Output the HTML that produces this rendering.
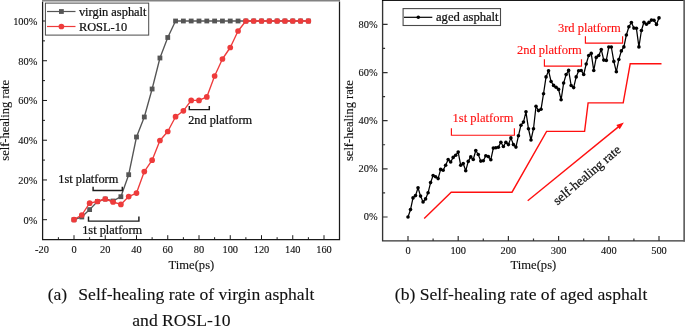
<!DOCTYPE html>
<html lang="en"><head><meta charset="utf-8"><title>Self-healing rate</title>
<style>html,body{margin:0;padding:0;background:#fff;}body{width:685px;height:326px;overflow:hidden;}svg{display:block;}text{font-family:"Liberation Serif", "DejaVu Serif", serif;fill:#111;stroke:#111;stroke-width:0.12px;}.b{stroke-width:0.24px;}</style>
</head><body>
<svg width="685" height="326" viewBox="0 0 685 326">
<rect x="0" y="0" width="685" height="326" fill="#ffffff"/>
<g fill="none" stroke="#1a1a1a" stroke-width="1.25">
<path d="M42.60 1.50 V239.60 H339.50 V1.50"/>
</g>
<rect x="42.05" y="0" width="298.00" height="1.5" fill="#828282"/>
<path d="M58.38 239.60v-2.40M74.00 239.60v-4.40M89.62 239.60v-2.40M105.25 239.60v-4.40M120.88 239.60v-2.40M136.50 239.60v-4.40M152.12 239.60v-2.40M167.75 239.60v-4.40M183.38 239.60v-2.40M199.00 239.60v-4.40M214.62 239.60v-2.40M230.25 239.60v-4.40M245.88 239.60v-2.40M261.50 239.60v-4.40M277.12 239.60v-2.40M292.75 239.60v-4.40M308.38 239.60v-2.40M324.00 239.60v-4.40M42.60 219.70h4.40M42.60 199.83h2.40M42.60 179.96h4.40M42.60 160.09h2.40M42.60 140.22h4.40M42.60 120.35h2.40M42.60 100.48h4.40M42.60 80.61h2.40M42.60 60.74h4.40M42.60 40.87h2.40M42.60 21.00h4.40" stroke="#1a1a1a" stroke-width="1" fill="none"/>
<g font-size="10.4px" style="stroke-width:0.16px">
<text x="41.95" y="252.9" text-anchor="middle">-20</text>
<text x="74.00" y="252.9" text-anchor="middle">0</text>
<text x="105.25" y="252.9" text-anchor="middle">20</text>
<text x="136.50" y="252.9" text-anchor="middle">40</text>
<text x="167.75" y="252.9" text-anchor="middle">60</text>
<text x="199.00" y="252.9" text-anchor="middle">80</text>
<text x="230.25" y="252.9" text-anchor="middle">100</text>
<text x="261.50" y="252.9" text-anchor="middle">120</text>
<text x="292.75" y="252.9" text-anchor="middle">140</text>
<text x="324.00" y="252.9" text-anchor="middle">160</text>
<text x="37.4" y="223.50" text-anchor="end">0%</text>
<text x="37.4" y="183.76" text-anchor="end">20%</text>
<text x="37.4" y="144.02" text-anchor="end">40%</text>
<text x="37.4" y="104.28" text-anchor="end">60%</text>
<text x="37.4" y="64.54" text-anchor="end">80%</text>
<text x="37.4" y="24.80" text-anchor="end">100%</text>
</g>
<text x="191.4" y="268.7" font-size="12.6px" text-anchor="middle">Time(ps)</text>
<text transform="translate(9,120.3) rotate(-90)" font-size="12.5px" text-anchor="middle">self-healing rate</text>
<polyline points="74.00,219.70 81.81,217.00 89.62,209.60 97.44,201.50 105.25,199.00 113.06,201.00 120.88,196.70 128.69,174.70 136.50,137.00 144.31,117.00 152.12,89.00 159.94,58.00 167.75,37.50 175.56,21.00 183.38,21.00 191.19,21.00 199.00,21.00 206.81,21.00 214.62,21.00 222.44,21.00 230.25,21.00 238.06,21.00 245.88,21.00 253.69,21.00 261.50,21.00 269.31,21.00 277.12,21.00 284.94,21.00 292.75,21.00 300.56,21.00 308.38,21.00" fill="none" stroke="#555555" stroke-width="1.35" stroke-linejoin="round"/>
<g fill="#555555">
<rect x="71.60" y="217.30" width="4.8" height="4.8"/>
<rect x="79.41" y="214.60" width="4.8" height="4.8"/>
<rect x="87.22" y="207.20" width="4.8" height="4.8"/>
<rect x="95.04" y="199.10" width="4.8" height="4.8"/>
<rect x="102.85" y="196.60" width="4.8" height="4.8"/>
<rect x="110.66" y="198.60" width="4.8" height="4.8"/>
<rect x="118.47" y="194.30" width="4.8" height="4.8"/>
<rect x="126.29" y="172.30" width="4.8" height="4.8"/>
<rect x="134.10" y="134.60" width="4.8" height="4.8"/>
<rect x="141.91" y="114.60" width="4.8" height="4.8"/>
<rect x="149.72" y="86.60" width="4.8" height="4.8"/>
<rect x="157.54" y="55.60" width="4.8" height="4.8"/>
<rect x="165.35" y="35.10" width="4.8" height="4.8"/>
<rect x="173.16" y="18.60" width="4.8" height="4.8"/>
<rect x="180.97" y="18.60" width="4.8" height="4.8"/>
<rect x="188.79" y="18.60" width="4.8" height="4.8"/>
<rect x="196.60" y="18.60" width="4.8" height="4.8"/>
<rect x="204.41" y="18.60" width="4.8" height="4.8"/>
<rect x="212.22" y="18.60" width="4.8" height="4.8"/>
<rect x="220.04" y="18.60" width="4.8" height="4.8"/>
<rect x="227.85" y="18.60" width="4.8" height="4.8"/>
<rect x="235.66" y="18.60" width="4.8" height="4.8"/>
<rect x="243.47" y="18.60" width="4.8" height="4.8"/>
<rect x="251.29" y="18.60" width="4.8" height="4.8"/>
<rect x="259.10" y="18.60" width="4.8" height="4.8"/>
<rect x="266.91" y="18.60" width="4.8" height="4.8"/>
<rect x="274.73" y="18.60" width="4.8" height="4.8"/>
<rect x="282.54" y="18.60" width="4.8" height="4.8"/>
<rect x="290.35" y="18.60" width="4.8" height="4.8"/>
<rect x="298.16" y="18.60" width="4.8" height="4.8"/>
<rect x="305.98" y="18.60" width="4.8" height="4.8"/>
</g>
<polyline points="74.00,219.70 81.81,215.00 89.62,203.20 97.44,201.50 105.25,199.00 113.06,202.00 120.88,204.40 128.69,196.60 136.50,193.10 144.31,171.60 152.12,160.20 159.94,140.50 167.75,131.50 175.56,116.70 183.38,110.80 191.19,100.40 199.00,100.40 206.81,96.90 214.62,76.00 222.44,59.00 230.25,47.50 238.06,31.00 245.88,21.00 253.69,21.00 261.50,21.00 269.31,21.00 277.12,21.00 284.94,21.00 292.75,21.00 300.56,21.00 308.38,21.00" fill="none" stroke="#ee3b3b" stroke-width="1.35" stroke-linejoin="round"/>
<g fill="#ee3b3b">
<circle cx="74.00" cy="219.70" r="2.85"/>
<circle cx="81.81" cy="215.00" r="2.85"/>
<circle cx="89.62" cy="203.20" r="2.85"/>
<circle cx="97.44" cy="201.50" r="2.85"/>
<circle cx="105.25" cy="199.00" r="2.85"/>
<circle cx="113.06" cy="202.00" r="2.85"/>
<circle cx="120.88" cy="204.40" r="2.85"/>
<circle cx="128.69" cy="196.60" r="2.85"/>
<circle cx="136.50" cy="193.10" r="2.85"/>
<circle cx="144.31" cy="171.60" r="2.85"/>
<circle cx="152.12" cy="160.20" r="2.85"/>
<circle cx="159.94" cy="140.50" r="2.85"/>
<circle cx="167.75" cy="131.50" r="2.85"/>
<circle cx="175.56" cy="116.70" r="2.85"/>
<circle cx="183.38" cy="110.80" r="2.85"/>
<circle cx="191.19" cy="100.40" r="2.85"/>
<circle cx="199.00" cy="100.40" r="2.85"/>
<circle cx="206.81" cy="96.90" r="2.85"/>
<circle cx="214.62" cy="76.00" r="2.85"/>
<circle cx="222.44" cy="59.00" r="2.85"/>
<circle cx="230.25" cy="47.50" r="2.85"/>
<circle cx="238.06" cy="31.00" r="2.85"/>
<circle cx="245.88" cy="21.00" r="2.85"/>
<circle cx="253.69" cy="21.00" r="2.85"/>
<circle cx="261.50" cy="21.00" r="2.85"/>
<circle cx="269.31" cy="21.00" r="2.85"/>
<circle cx="277.12" cy="21.00" r="2.85"/>
<circle cx="284.94" cy="21.00" r="2.85"/>
<circle cx="292.75" cy="21.00" r="2.85"/>
<circle cx="300.56" cy="21.00" r="2.85"/>
<circle cx="308.38" cy="21.00" r="2.85"/>
</g>
<rect x="45.4" y="3.1" width="103.3" height="32" fill="#fff" stroke="#4a4a4a" stroke-width="1"/>
<path d="M47 11.5H75.5" stroke="#555555" stroke-width="1.2"/>
<rect x="59" y="9.1" width="4.8" height="4.8" fill="#555555"/>
<path d="M47 26.5H75.5" stroke="#ee3b3b" stroke-width="1.2"/>
<circle cx="61.4" cy="26.5" r="2.85" fill="#ee3b3b"/>
<text class="b" x="78.9" y="15.8" font-size="12.4px">virgin asphalt</text>
<text class="b" x="78.9" y="30.9" font-size="12.4px">ROSL-10</text>
<g fill="none" stroke="#1c1c1c" stroke-width="1.45">
<path d="M93.1 186.8V190.5H122.3V186.8"/>
<path d="M88.5 216.6V221.1H138.9V216.6"/>
<path d="M189.3 106V109.6H209.3V106"/>
</g>
<text class="b" x="58.3" y="182.6" font-size="12.35px">1st platform</text>
<text class="b" x="82.2" y="234.4" font-size="12.35px">1st platform</text>
<text class="b" x="188.2" y="123.6" font-size="12.3px">2nd platform</text>
<text x="47.7" y="299.7" font-size="17.6px">(a)</text>
<text x="78.3" y="299.7" font-size="17.6px">Self-healing rate of virgin asphalt</text>
<text x="181.4" y="325.6" font-size="17.6px" text-anchor="middle">and ROSL-10</text>
<text x="394.8" y="299.7" font-size="17.6px">(b) Self-healing rate of aged asphalt</text>
<path d="M382.60 -1.00 V240.90 H685.00" fill="none" stroke="#333" stroke-width="1.35"/>
<rect x="382.05" y="0" width="310" height="0.9" fill="#000"/>
<rect x="683.3" y="0" width="2" height="241.50" fill="#626262"/>
<path d="M408.00 240.90v-4.90M433.10 240.90v-2.50M458.20 240.90v-4.90M483.30 240.90v-2.50M508.40 240.90v-4.90M533.50 240.90v-2.50M558.60 240.90v-4.90M583.70 240.90v-2.50M608.80 240.90v-4.90M633.90 240.90v-2.50M659.00 240.90v-4.90M382.60 217.00h5.00M382.60 192.93h2.50M382.60 168.85h5.00M382.60 144.77h2.50M382.60 120.70h5.00M382.60 96.62h2.50M382.60 72.55h5.00M382.60 48.47h2.50M382.60 24.40h5.00" stroke="#333" stroke-width="1.2" fill="none"/>
<g font-size="10.4px" style="stroke-width:0.16px">
<text x="408.00" y="254" text-anchor="middle">0</text>
<text x="458.20" y="254" text-anchor="middle">100</text>
<text x="508.40" y="254" text-anchor="middle">200</text>
<text x="558.60" y="254" text-anchor="middle">300</text>
<text x="608.80" y="254" text-anchor="middle">400</text>
<text x="659.00" y="254" text-anchor="middle">500</text>
<text x="377.6" y="220.40" text-anchor="end">0%</text>
<text x="377.6" y="172.25" text-anchor="end">20%</text>
<text x="377.6" y="124.10" text-anchor="end">40%</text>
<text x="377.6" y="75.95" text-anchor="end">60%</text>
<text x="377.6" y="27.80" text-anchor="end">80%</text>
</g>
<text x="533.4" y="268.7" font-size="12.6px" text-anchor="middle">Time(ps)</text>
<text transform="translate(353.1,120.6) rotate(-90)" font-size="12.5px" text-anchor="middle">self-healing rate</text>
<polyline points="408.00,217.00 410.51,209.60 413.02,197.90 415.53,195.60 418.04,187.80 420.55,196.10 423.06,202.00 425.57,198.90 428.08,192.80 430.59,182.60 433.10,175.50 435.61,176.70 438.12,178.60 440.63,169.40 443.14,170.20 445.65,165.30 448.16,159.60 450.67,162.00 453.18,157.40 455.69,155.20 458.20,152.10 460.71,165.30 463.22,163.50 465.73,170.80 468.24,161.40 470.75,156.90 473.26,159.50 475.77,150.50 478.28,154.50 480.79,161.10 483.30,160.70 485.81,155.70 488.32,156.60 490.83,159.70 493.34,148.10 495.85,147.70 498.36,147.30 500.87,142.20 503.38,146.50 505.89,142.20 508.40,144.60 510.91,137.90 513.42,144.60 515.93,147.10 518.44,135.80 520.95,125.20 523.46,122.10 525.97,111.80 528.48,128.80 530.99,140.00 533.50,128.70 536.01,106.30 538.52,110.60 541.03,109.30 543.54,93.70 546.05,76.90 548.56,70.70 551.07,81.50 553.58,85.40 556.09,87.20 558.60,89.40 561.11,99.80 563.62,83.10 566.13,74.50 568.64,70.40 571.15,85.50 573.66,87.60 576.17,76.90 578.68,70.70 581.19,70.50 583.70,74.50 586.21,64.00 588.72,55.50 591.23,53.40 593.74,70.50 596.25,57.40 598.76,55.50 601.27,49.50 603.78,60.10 606.29,60.40 608.80,47.00 611.31,47.00 613.82,61.40 616.33,71.80 618.84,59.50 621.35,50.90 623.86,46.90 626.37,35.00 628.88,26.70 631.39,22.50 633.90,28.10 636.41,28.30 638.92,46.90 641.43,30.50 643.94,22.20 646.45,24.30 648.96,22.40 651.47,20.10 653.98,20.30 656.49,24.40 659.00,17.90" fill="none" stroke="#000" stroke-width="1.25" stroke-linejoin="round"/>
<g fill="#000">
<circle cx="408.00" cy="217.00" r="1.8"/>
<circle cx="410.51" cy="209.60" r="1.8"/>
<circle cx="413.02" cy="197.90" r="1.8"/>
<circle cx="415.53" cy="195.60" r="1.8"/>
<circle cx="418.04" cy="187.80" r="1.8"/>
<circle cx="420.55" cy="196.10" r="1.8"/>
<circle cx="423.06" cy="202.00" r="1.8"/>
<circle cx="425.57" cy="198.90" r="1.8"/>
<circle cx="428.08" cy="192.80" r="1.8"/>
<circle cx="430.59" cy="182.60" r="1.8"/>
<circle cx="433.10" cy="175.50" r="1.8"/>
<circle cx="435.61" cy="176.70" r="1.8"/>
<circle cx="438.12" cy="178.60" r="1.8"/>
<circle cx="440.63" cy="169.40" r="1.8"/>
<circle cx="443.14" cy="170.20" r="1.8"/>
<circle cx="445.65" cy="165.30" r="1.8"/>
<circle cx="448.16" cy="159.60" r="1.8"/>
<circle cx="450.67" cy="162.00" r="1.8"/>
<circle cx="453.18" cy="157.40" r="1.8"/>
<circle cx="455.69" cy="155.20" r="1.8"/>
<circle cx="458.20" cy="152.10" r="1.8"/>
<circle cx="460.71" cy="165.30" r="1.8"/>
<circle cx="463.22" cy="163.50" r="1.8"/>
<circle cx="465.73" cy="170.80" r="1.8"/>
<circle cx="468.24" cy="161.40" r="1.8"/>
<circle cx="470.75" cy="156.90" r="1.8"/>
<circle cx="473.26" cy="159.50" r="1.8"/>
<circle cx="475.77" cy="150.50" r="1.8"/>
<circle cx="478.28" cy="154.50" r="1.8"/>
<circle cx="480.79" cy="161.10" r="1.8"/>
<circle cx="483.30" cy="160.70" r="1.8"/>
<circle cx="485.81" cy="155.70" r="1.8"/>
<circle cx="488.32" cy="156.60" r="1.8"/>
<circle cx="490.83" cy="159.70" r="1.8"/>
<circle cx="493.34" cy="148.10" r="1.8"/>
<circle cx="495.85" cy="147.70" r="1.8"/>
<circle cx="498.36" cy="147.30" r="1.8"/>
<circle cx="500.87" cy="142.20" r="1.8"/>
<circle cx="503.38" cy="146.50" r="1.8"/>
<circle cx="505.89" cy="142.20" r="1.8"/>
<circle cx="508.40" cy="144.60" r="1.8"/>
<circle cx="510.91" cy="137.90" r="1.8"/>
<circle cx="513.42" cy="144.60" r="1.8"/>
<circle cx="515.93" cy="147.10" r="1.8"/>
<circle cx="518.44" cy="135.80" r="1.8"/>
<circle cx="520.95" cy="125.20" r="1.8"/>
<circle cx="523.46" cy="122.10" r="1.8"/>
<circle cx="525.97" cy="111.80" r="1.8"/>
<circle cx="528.48" cy="128.80" r="1.8"/>
<circle cx="530.99" cy="140.00" r="1.8"/>
<circle cx="533.50" cy="128.70" r="1.8"/>
<circle cx="536.01" cy="106.30" r="1.8"/>
<circle cx="538.52" cy="110.60" r="1.8"/>
<circle cx="541.03" cy="109.30" r="1.8"/>
<circle cx="543.54" cy="93.70" r="1.8"/>
<circle cx="546.05" cy="76.90" r="1.8"/>
<circle cx="548.56" cy="70.70" r="1.8"/>
<circle cx="551.07" cy="81.50" r="1.8"/>
<circle cx="553.58" cy="85.40" r="1.8"/>
<circle cx="556.09" cy="87.20" r="1.8"/>
<circle cx="558.60" cy="89.40" r="1.8"/>
<circle cx="561.11" cy="99.80" r="1.8"/>
<circle cx="563.62" cy="83.10" r="1.8"/>
<circle cx="566.13" cy="74.50" r="1.8"/>
<circle cx="568.64" cy="70.40" r="1.8"/>
<circle cx="571.15" cy="85.50" r="1.8"/>
<circle cx="573.66" cy="87.60" r="1.8"/>
<circle cx="576.17" cy="76.90" r="1.8"/>
<circle cx="578.68" cy="70.70" r="1.8"/>
<circle cx="581.19" cy="70.50" r="1.8"/>
<circle cx="583.70" cy="74.50" r="1.8"/>
<circle cx="586.21" cy="64.00" r="1.8"/>
<circle cx="588.72" cy="55.50" r="1.8"/>
<circle cx="591.23" cy="53.40" r="1.8"/>
<circle cx="593.74" cy="70.50" r="1.8"/>
<circle cx="596.25" cy="57.40" r="1.8"/>
<circle cx="598.76" cy="55.50" r="1.8"/>
<circle cx="601.27" cy="49.50" r="1.8"/>
<circle cx="603.78" cy="60.10" r="1.8"/>
<circle cx="606.29" cy="60.40" r="1.8"/>
<circle cx="608.80" cy="47.00" r="1.8"/>
<circle cx="611.31" cy="47.00" r="1.8"/>
<circle cx="613.82" cy="61.40" r="1.8"/>
<circle cx="616.33" cy="71.80" r="1.8"/>
<circle cx="618.84" cy="59.50" r="1.8"/>
<circle cx="621.35" cy="50.90" r="1.8"/>
<circle cx="623.86" cy="46.90" r="1.8"/>
<circle cx="626.37" cy="35.00" r="1.8"/>
<circle cx="628.88" cy="26.70" r="1.8"/>
<circle cx="631.39" cy="22.50" r="1.8"/>
<circle cx="633.90" cy="28.10" r="1.8"/>
<circle cx="636.41" cy="28.30" r="1.8"/>
<circle cx="638.92" cy="46.90" r="1.8"/>
<circle cx="641.43" cy="30.50" r="1.8"/>
<circle cx="643.94" cy="22.20" r="1.8"/>
<circle cx="646.45" cy="24.30" r="1.8"/>
<circle cx="648.96" cy="22.40" r="1.8"/>
<circle cx="651.47" cy="20.10" r="1.8"/>
<circle cx="653.98" cy="20.30" r="1.8"/>
<circle cx="656.49" cy="24.40" r="1.8"/>
<circle cx="659.00" cy="17.90" r="1.8"/>
</g>
<rect x="403.1" y="8.6" width="97.4" height="16.9" fill="#fff" stroke="#4a4a4a" stroke-width="1.1"/>
<path d="M404 17.3H432.3" stroke="#000" stroke-width="1.2"/>
<circle cx="418.3" cy="17.3" r="1.8" fill="#000"/>
<text class="b" x="436" y="21.2" font-size="12.6px">aged asphalt</text>
<g fill="none" stroke="#ff0f0f" stroke-width="1.4">
<path stroke-width="1.15" d="M451.4 128.2V135.2H514.4V128.2"/>
<path stroke-width="1.15" d="M544.4 59.2V66.1H581.5V59.2"/>
<path stroke-width="1.15" d="M585.4 36.2V43.1H622.6V36.2"/>
<path d="M424.2 218.4L451.2 192.2H512L546.6 131.4H584.6L588.1 102.9H623.2L630.2 63.8H661.5"/>
<path d="M527.7 200.8L619 126.4"/>
</g>
<path d="M623.90 122.40L619.71 129.29L616.30 125.11Z" fill="#ff0f0f"/>
<g class="b" font-size="12.5px" style="fill:#ff0f0f">
<text x="452.6" y="122.4" style="fill:#ff0f0f;stroke:#ff0f0f">1st platform</text>
<text x="516.9" y="53.6" style="fill:#ff0f0f;stroke:#ff0f0f">2nd platform</text>
<text x="557.9" y="31.7" style="fill:#ff0f0f;stroke:#ff0f0f">3rd platform</text>
</g>
<text transform="translate(557.5,205.5) rotate(-40.3)" font-size="13px" style="stroke-width:0.25px">self-healing rate</text>
</svg>
</body></html>
